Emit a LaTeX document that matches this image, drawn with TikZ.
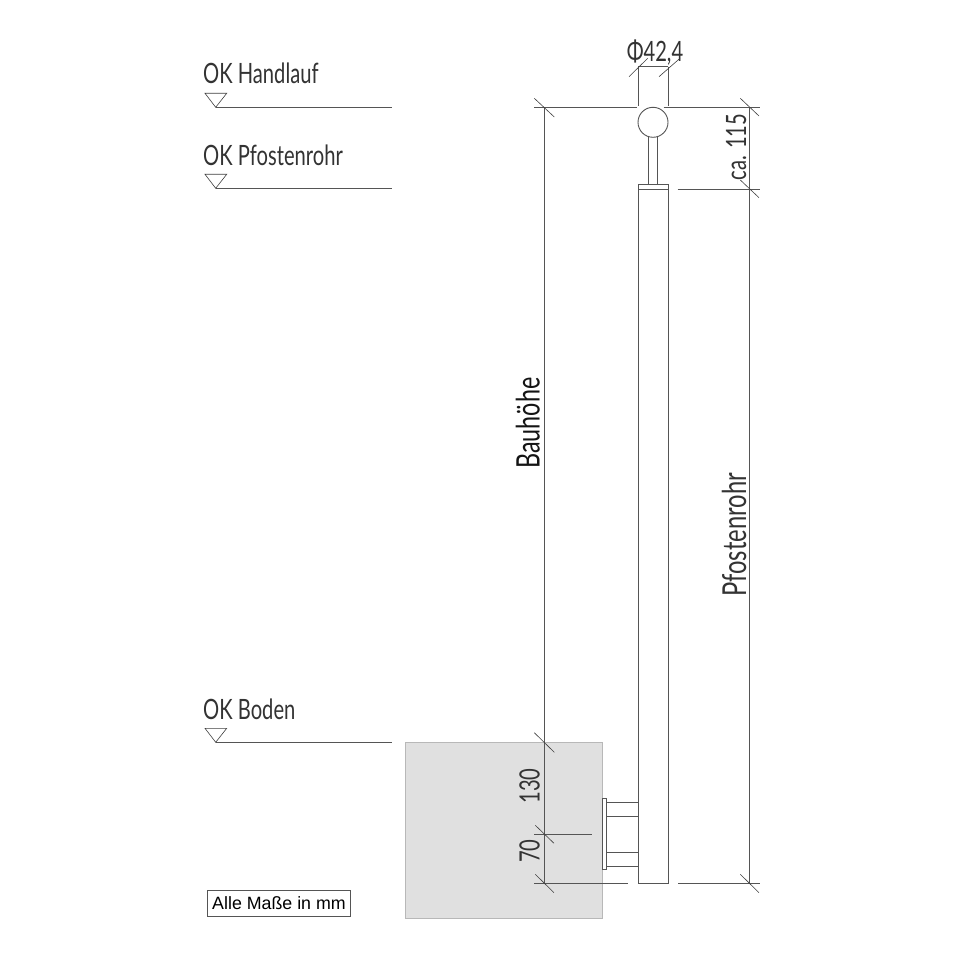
\documentclass[tikz,border=0pt]{standalone}
\usepackage{fontspec}
\newfontfamily\cad[FakeStretch=0.72]{Lato}
\newfontfamily\arial{Liberation Sans}
\definecolor{ln}{HTML}{555555}
\tikzset{
 part/.style={draw=ln,line width=0.9pt},
 thin dim/.style={draw=ln,line width=0.7pt},
 cadlabel/.style={inner sep=0pt,font=\cad\fontsize{28}{28}\selectfont,text=black!80},
 midlabel/.style={inner sep=0pt,font=\cad\fontsize{33}{33}\selectfont,text=black!80},
 biglabel/.style={inner sep=0pt,font=\cad\fontsize{32.4}{32.4}\selectfont,text=black!92},
 numlabel/.style={inner sep=0pt,font=\cad\fontsize{28}{28}\selectfont,text=black!80},
 tick/.style={draw=black!75,line width=0.6pt},
}
\begin{document}
\begin{tikzpicture}[x=1pt,y=-1pt]
\useasboundingbox (0,0) rectangle (960,960);
\fill[white] (0,0) rectangle (960,960);
% concrete block
\filldraw[fill=black!12,draw=black!28,line width=0.8pt] (405,742.3) rectangle (602.3,918.7);
% level marks
\foreach \yy/\tt in {107.3/93.3,188.3/174.3,742.3/728.3}{
 \draw[thin dim] (215.7,\yy) -- (392,\yy);
 \draw[tick] (205,\tt) -- (226.7,\tt) -- (215.7,\yy) -- cycle;
}
\node[cadlabel,anchor=base west] (lh) at (203,84) {OK Handlauf};
\node[cadlabel,anchor=base west] (lp) at (203,165) {OK Pfostenrohr};
\node[cadlabel,anchor=base west] (lb) at (203,719) {OK Boden};
% post
\draw[part] (638,883.3) -- (638,184.8) -- (668.3,184.8) -- (668.3,883.3) -- cycle;
\draw[part] (638,189) -- (668.3,189);
\draw[part] (648.7,184.8) -- (648.7,137);
\draw[part] (657,184.8) -- (657,137);
\draw[part,fill=white] (653,122.3) circle[radius=15];
% bracket
\draw[part,fill=white] (602.3,798.7) rectangle (606.7,869.7);
\foreach \yy in {802,816.7,852.3,866}{\draw[part] (606.7,\yy) -- (638,\yy);}
% dimension: diameter
\draw[thin dim] (638.3,66.7) -- (638.3,106);
\draw[thin dim] (668.3,66.7) -- (668.3,106);
\draw[thin dim] (638.3,66.7) -- (668.3,66.7);
\draw[tick] (629,76.7) -- (647.7,58.3);
\draw[tick] (659,76.7) -- (680,58.3);
\node[cadlabel,anchor=base] (dia) at (655,62) {Φ42,4};
% horizontal extension lines
\draw[thin dim] (534,107.3) -- (637,107.3);
\draw[thin dim] (663.5,107.3) -- (760,107.3);
\draw[thin dim] (677.7,189) -- (760,189);
\draw[thin dim] (534,883.3) -- (628.3,883.3);
\draw[thin dim] (678,883.3) -- (760,883.3);
\draw[thin dim] (534,834) -- (592.3,834);
% vertical dimension lines
\draw[thin dim] (544.3,107.3) -- (544.3,883.3);
\draw[thin dim] (749.3,107.3) -- (749.3,883.3);
% ticks
\draw[tick] (534.3,98.3) -- (554.3,117);
\draw[tick] (534.3,732.7) -- (554.3,752.3);
\draw[tick] (535.3,825.3) -- (554,843.3);
\draw[tick] (535.3,874.3) -- (554,892.7);
\draw[tick] (740.3,98.3) -- (759,116);
\draw[tick] (740.3,180) -- (759,197.7);
\draw[tick] (740.3,874.3) -- (759,892.7);
% rotated labels
\node[biglabel,rotate=90,anchor=base] (bh) at (539.5,423) {Bauhöhe};
\node[midlabel,rotate=90,anchor=base] (pf) at (746,535) {Pfostenrohr};
\node[numlabel,rotate=90,anchor=base] (m130) at (539.5,786) {130};
\node[numlabel,rotate=90,anchor=base] (m70) at (539.5,851) {70};
\node[cadlabel,rotate=90,anchor=base] (m115) at (746,147) {ca. 115};
% note
\node[draw=ln,line width=0.8pt,fill=white,minimum width=143.4pt,minimum height=25.7pt,inner sep=0pt,font=\arial\fontsize{17.8}{17.8}\selectfont] (note) at (279,903.2) {Alle Maße in mm};
\end{tikzpicture}
\end{document}
